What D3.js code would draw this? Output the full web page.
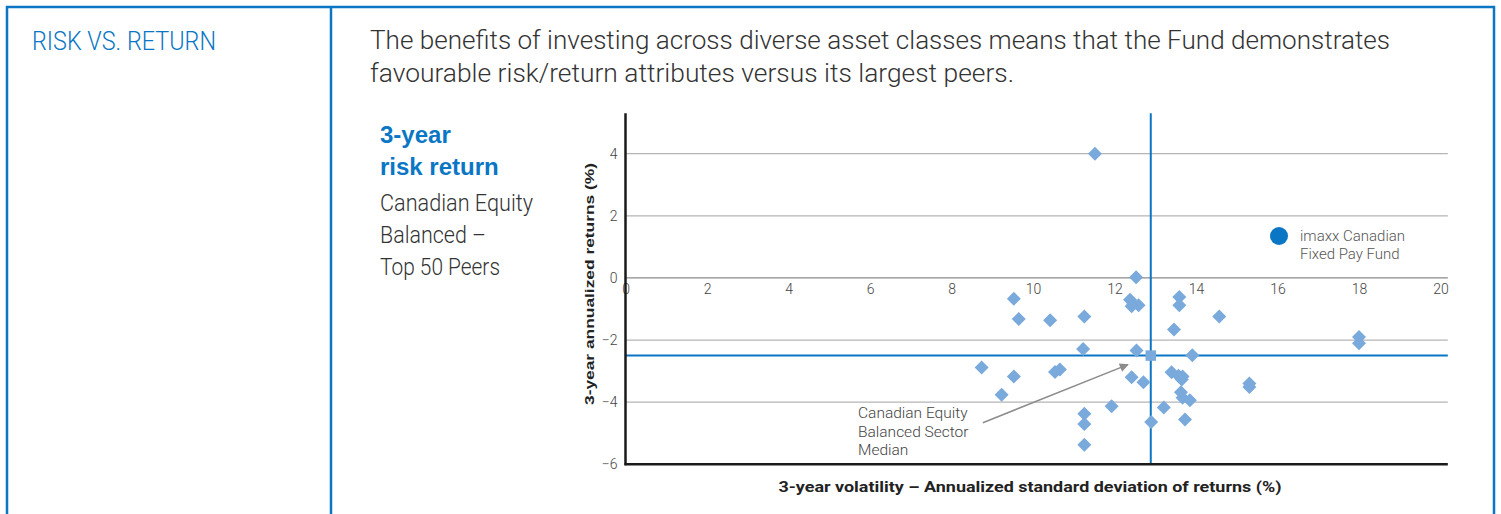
<!DOCTYPE html>
<html>
<head>
<meta charset="utf-8">
<script src="https://cdn.jsdelivr.net/npm/d3@7"></script>
<style>
  body { margin: 0; background: #fff; }
  text { font-family: Roboto, "Liberation Sans", sans-serif; }
</style>
</head>
<body>
<div id="chart"></div>
<script>
// peers: 3-year volatility (x) and 3-year annualized return (y), in %
var volatility = [11.52, 12.53, 12.38, 12.46, 12.59, 12.42, 13.59, 13.59, 14.57, 13.46,
                  12.54, 13.91, 12.42, 12.71, 13.40, 13.57, 13.65, 13.67, 13.63, 13.67,
                  13.85, 11.93, 13.21, 12.90, 13.73, 9.53, 9.65, 10.42, 11.26, 11.23,
                  8.74, 9.53, 9.23, 10.54, 10.66, 11.26, 11.26, 11.26, 15.31, 15.31,
                  18.0, 18.0];
var returns = [4.0, 0.02, -0.70, -0.84, -0.88, -0.91, -0.61, -0.88, -1.24, -1.66,
               -2.34, -2.49, -3.20, -3.36, -3.04, -3.15, -3.27, -3.17, -3.68, -3.86,
               -3.94, -4.13, -4.17, -4.64, -4.56, -0.67, -1.32, -1.36, -1.24, -2.29,
               -2.88, -3.17, -3.76, -3.03, -2.95, -4.37, -4.70, -5.37, -3.40, -3.51,
               -1.90, -2.10];
var medianVol = 12.89, medianRet = -2.50;
var xTicks = [0, 2, 4, 6, 8, 10, 12, 14, 16, 18, 20];
var yTicks = [-6, -4, -2, 0, 2, 4];
var gridValues = [-4, -2, 2, 4];
var introLines = ["The benefits of investing across diverse asset classes means that the Fund demonstrates",
                  "favourable risk/return attributes versus its largest peers."];
var titleLines = ["3-year", "risk return"];
var subtitleLines = ["Canadian Equity", "Balanced \u2013", "Top 50 Peers"];
var legendLines = ["imaxx Canadian", "Fixed Pay Fund"];
var noteLines = ["Canadian Equity", "Balanced Sector", "Median"];

var blue = "#0a76c4", dot = "#7aa9dc", ink = "#333";

var svg = d3.select("#chart")
  .append("svg")
    .attr("width", 1501)
    .attr("height", 514);

// frame
var frame = svg.append("g").attr("stroke", blue).attr("stroke-width", 2.5);
frame.append("line").attr("x1", 6).attr("x2", 1495).attr("y1", 7).attr("y2", 7);
frame.append("line").attr("x1", 7).attr("x2", 7).attr("y1", 6).attr("y2", 514);
frame.append("line").attr("x1", 331).attr("x2", 331).attr("y1", 6).attr("y2", 514);
frame.append("line").attr("x1", 1494).attr("x2", 1494).attr("y1", 6).attr("y2", 514);

svg.append("text")
  .attr("x", 32).attr("y", 50)
  .attr("font-size", 25.5).attr("fill", blue)
  .style("font-weight", 300)
  .attr("textLength", 184).attr("lengthAdjust", "spacingAndGlyphs")
  .text("RISK VS. RETURN");

var introWidths = [1020, 644];
svg.selectAll(".intro")
  .data(introLines)
  .enter().append("text")
    .attr("x", 370)
    .attr("y", function (d, i) { return 49 + i * 33; })
    .attr("font-size", 25.5)
    .attr("fill", ink)
    .style("font-weight", 300)
    .attr("textLength", function (d, i) { return introWidths[i]; })
    .attr("lengthAdjust", "spacingAndGlyphs")
    .text(function (d) { return d; });

svg.selectAll(".title")
  .data(titleLines)
  .enter().append("text")
    .attr("x", 380)
    .attr("y", function (d, i) { return 143 + i * 32; })
    .attr("font-size", 24).attr("font-weight", "bold")
    .attr("fill", blue)
    .style("font-family", "'Liberation Sans', Arial, sans-serif")
    .text(function (d) { return d; });

var subWidths = [153, 106, 120];
svg.selectAll(".sub")
  .data(subtitleLines)
  .enter().append("text")
    .attr("x", 380)
    .attr("y", function (d, i) { return 211 + i * 32; })
    .attr("font-size", 23)
    .attr("fill", ink)
    .style("font-weight", 300)
    .attr("textLength", function (d, i) { return subWidths[i]; })
    .attr("lengthAdjust", "spacingAndGlyphs")
    .text(function (d) { return d; });

// scales
var x = d3.scaleLinear().domain([0, 20]).range([625.5, 1440.5]);
var y = d3.scaleLinear().domain([-6, 4]).range([464.3, 153.7]);
var plotRight = x(20.18), plotTop = y(5.3);

// grid
svg.append("g")
  .selectAll("line")
  .data(gridValues)
  .enter().append("line")
    .attr("x1", x(0)).attr("x2", plotRight)
    .attr("y1", function (d) { return y(d); })
    .attr("y2", function (d) { return y(d); })
    .attr("stroke", "#b5b5b5").attr("stroke-width", 1.2);

svg.append("line")
  .attr("x1", x(0)).attr("x2", plotRight)
  .attr("y1", y(0)).attr("y2", y(0))
  .attr("stroke", "#8a8a8a").attr("stroke-width", 1.2);

// median lines
svg.append("line")
  .attr("x1", x(medianVol)).attr("x2", x(medianVol))
  .attr("y1", plotTop).attr("y2", y(-6))
  .attr("stroke", blue).attr("stroke-width", 2);
svg.append("line")
  .attr("x1", x(0)).attr("x2", plotRight)
  .attr("y1", y(medianRet)).attr("y2", y(medianRet))
  .attr("stroke", blue).attr("stroke-width", 2);

// axes
var xAxis = d3.axisBottom(x).tickValues(xTicks).tickSize(0).tickPadding(6);
svg.append("g")
  .attr("transform", "translate(0," + y(0) + ")")
  .call(xAxis)
  .call(function (g) { g.select(".domain").remove(); })
  .selectAll("text")
    .attr("font-size", 14).attr("fill", "#444")
    .style("font-family", "Roboto, sans-serif").style("font-weight", 300);

var yAxis = d3.axisLeft(y).tickValues(yTicks).tickSize(0).tickPadding(8);
svg.append("g")
  .attr("transform", "translate(" + x(0) + ",0)")
  .call(yAxis)
  .call(function (g) { g.select(".domain").remove(); })
  .selectAll("text")
    .attr("font-size", 14).attr("fill", "#444")
    .style("font-family", "Roboto, sans-serif").style("font-weight", 300);

svg.append("line")
  .attr("x1", x(0)).attr("x2", x(0))
  .attr("y1", plotTop).attr("y2", y(-6) + 1)
  .attr("stroke", "#1a1a1a").attr("stroke-width", 2.5);
svg.append("line")
  .attr("x1", x(0) - 1).attr("x2", plotRight)
  .attr("y1", y(-6)).attr("y2", y(-6))
  .attr("stroke", "#1a1a1a").attr("stroke-width", 2.5);

// axis titles
svg.append("text")
  .attr("transform", "translate(594," + 284 + ") rotate(-90)")
  .attr("text-anchor", "middle")
  .attr("font-size", 13.5).attr("font-weight", "bold").attr("fill", "#222")
  .style("font-family", "'Liberation Sans', Arial, sans-serif")
  .attr("textLength", 242).attr("lengthAdjust", "spacingAndGlyphs")
  .text("3-year annualized returns (%)");

svg.append("text")
  .attr("x", 1030).attr("y", 492)
  .attr("text-anchor", "middle")
  .attr("font-size", 15).attr("font-weight", "bold").attr("fill", "#222")
  .attr("textLength", 503).attr("lengthAdjust", "spacingAndGlyphs")
  .text("3-year volatility \u2013 Annualized standard deviation of returns (%)");

// peers
var peers = volatility.map(function (v, i) { return { vol: v, ret: returns[i] }; });
svg.append("g")
  .selectAll("path")
  .data(peers)
  .enter().append("path")
    .attr("d", d3.symbol().type(d3.symbolSquare).size(98))
    .attr("transform", function (d) {
      return "translate(" + x(d.vol) + "," + y(d.ret) + ") rotate(45)";
    })
    .style("fill", dot);

// sector median
svg.append("path")
  .attr("d", d3.symbol().type(d3.symbolSquare).size(110))
  .attr("transform", "translate(" + x(medianVol) + "," + y(medianRet) + ")")
  .style("fill", dot);

// annotation
svg.append("defs").append("marker")
  .attr("id", "arrow")
  .attr("viewBox", "0 0 10 10")
  .attr("refX", 9).attr("refY", 5)
  .attr("markerWidth", 11).attr("markerHeight", 9)
  .attr("markerUnits", "userSpaceOnUse")
  .attr("orient", "auto")
  .append("path").attr("d", "M0,0L10,5L0,10Z").attr("fill", "#8c8c8c");

svg.append("line")
  .attr("x1", x(8.77)).attr("y1", y(-4.66))
  .attr("x2", x(12.33)).attr("y2", y(-2.79))
  .attr("stroke", "#8c8c8c").attr("stroke-width", 1.5)
  .attr("marker-end", "url(#arrow)");

svg.selectAll(".note")
  .data(noteLines)
  .enter().append("text")
    .attr("x", 858)
    .attr("y", function (d, i) { return 418 + i * 18.5; })
    .attr("font-size", 15.5).attr("fill", "#444")
    .style("font-weight", 300)
    .text(function (d) { return d; });

// legend
svg.append("circle")
  .attr("cx", 1279).attr("cy", 236).attr("r", 9)
  .style("fill", blue);
svg.selectAll(".legend")
  .data(legendLines)
  .enter().append("text")
    .attr("x", 1300)
    .attr("y", function (d, i) { return 241 + i * 17.5; })
    .attr("font-size", 15).attr("fill", "#555")
    .style("font-weight", 300)
    .text(function (d) { return d; });
</script>
</body>
</html>
